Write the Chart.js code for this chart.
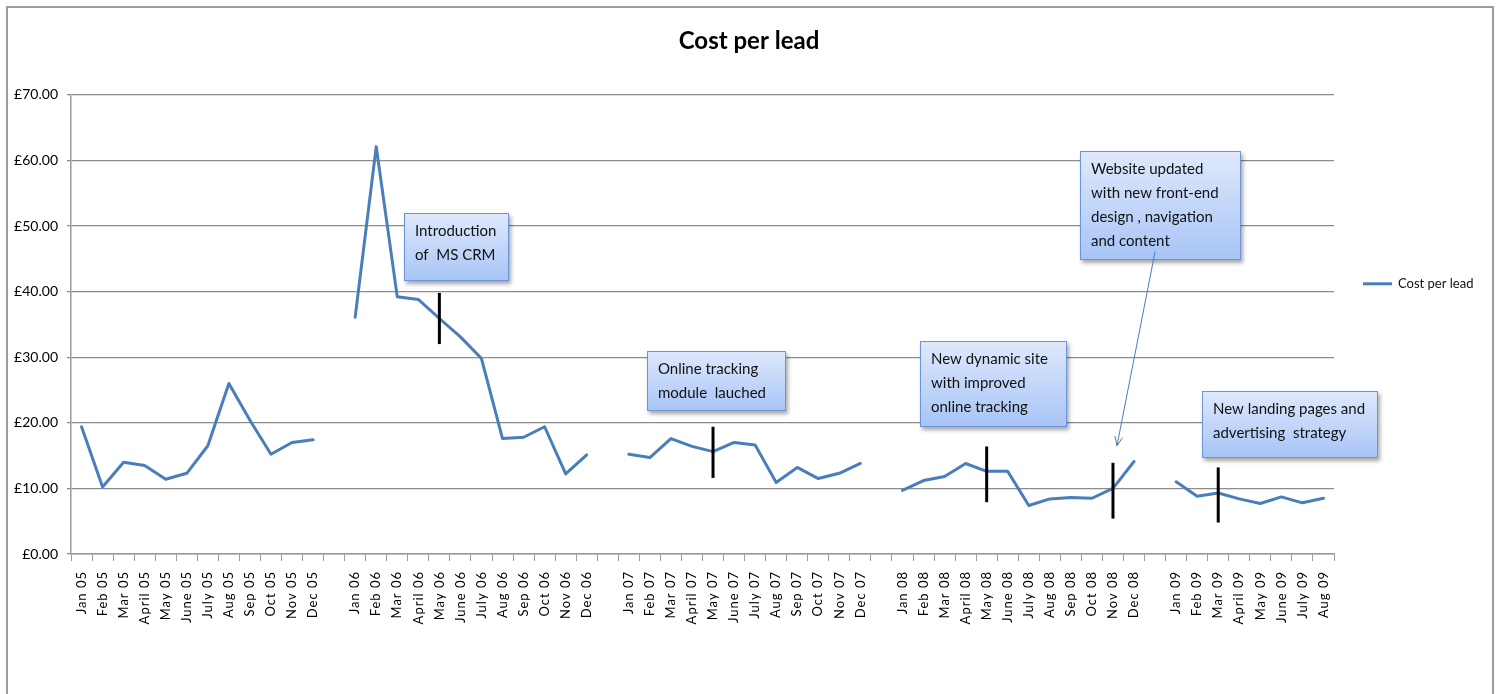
<!DOCTYPE html>
<html lang="en">
<head>
<meta charset="UTF-8">
<title>Cost per lead</title>
<script src="https://cdn.jsdelivr.net/npm/chart.js@4"></script>
<style>
    body {
        margin: 0;
        background: #fff;
    }

    #wrap {
        position: relative;
        width: 1498px;
        height: 694px;
        overflow: hidden;
    }

    /* grey frame of the chart object, runs off the bottom */
    #frame {
        position: absolute;
        left: 6px;
        top: 6px;
        width: 1484px;
        height: 720px;
        border: 2px solid #9c9c9c;
        border-bottom: none;
    }

    #chart {
        position: absolute;
        left: 0;
        top: 0;
    }
</style>
</head>
<body>
<div id="wrap">
    <div id="frame"></div>
    <canvas id="chart" width="1498" height="694"></canvas>
</div>

<script>
// months shown on the axis, one block per year with an empty slot between years
const months = ['Jan', 'Feb', 'Mar', 'April', 'May', 'June', 'July', 'Aug', 'Sep', 'Oct', 'Nov', 'Dec'];
const years = ['05', '06', '07', '08', '09'];

// cost per lead (GBP)
const cost05 = [19.4, 10.2, 14.0, 13.5, 11.4, 12.3, 16.5, 26.0, 20.4, 15.2, 17.0, 17.4];
const cost06 = [36.1, 62.1, 39.2, 38.8, 35.9, 33.1, 29.8, 17.6, 17.8, 19.4, 12.2, 15.1];
const cost07 = [15.2, 14.7, 17.6, 16.4, 15.6, 17.0, 16.6, 10.9, 13.2, 11.5, 12.3, 13.8];
const cost08 = [9.7, 11.2, 11.8, 13.8, 12.6, 12.6, 7.4, 8.4, 8.6, 8.5, 10.0, 14.1];
const cost09 = [11.0, 8.8, 9.3, 8.4, 7.7, 8.7, 7.8, 8.5];

// black event markers: month and the value range they span
const markerMonths = ['May 06', 'May 07', 'May 08', 'Nov 08', 'Mar 09'];
const markerLow = [32.0, 11.6, 7.9, 5.4, 4.8];
const markerHigh = [39.8, 19.4, 16.4, 13.9, 13.2];

// y ticks
const yMin = 0, yMax = 70, yStep = 10;

// build the category list and the series (null in the gaps)
const yearly = [cost05, cost06, cost07, cost08, cost09];
const labels = [];
const values = [];
years.forEach(function(yr, i) {
    if (i > 0) {
        labels.push('');
        values.push(null);
    }
    yearly[i].forEach(function(v, m) {
        labels.push(months[m] + ' ' + yr);
        values.push(v);
    });
});

const FONT = 'Lato';

// text boxes (anchored on the axes: fractional category index / value of top left corner)
const notes = [
    { at: 15.32, top: 52.0, w: 105, h: 68, lines: ['Introduction', 'of  MS CRM'] },
    { at: 26.86, top: 30.96, w: 139, h: 60, lines: ['Online tracking', 'module  lauched'] },
    { at: 39.83, top: 32.5, w: 147, h: 86, lines: ['New dynamic site', 'with improved', 'online tracking'] },
    { at: 47.43, top: 61.5, w: 161, h: 109, lines: ['Website updated', 'with new front-end', 'design , navigation', 'and content'] },
    { at: 53.23, top: 24.9, w: 176, h: 67, lines: ['New landing pages and', 'advertising  strategy'] }
];
const arrow = { from: [51.0, 46.1], to: [49.19, 16.5] };

function drawNote(ctx, x, y, w, h, lines) {
    ctx.save();
    ctx.shadowColor = 'rgba(0, 0, 0, 0.35)';
    ctx.shadowBlur = 4;
    ctx.shadowOffsetX = 2;
    ctx.shadowOffsetY = 3;
    const g = ctx.createLinearGradient(0, y, 0, y + h);
    g.addColorStop(0, '#dfe9fc');
    g.addColorStop(1, '#a7c4f6');
    ctx.fillStyle = g;
    ctx.fillRect(x, y, w, h);
    ctx.restore();

    ctx.save();
    ctx.strokeStyle = '#6b95d6';
    ctx.lineWidth = 1;
    ctx.strokeRect(x + 0.5, y + 0.5, w - 1, h - 1);
    ctx.fillStyle = '#111';
    ctx.font = '15px ' + FONT;
    ctx.textBaseline = 'middle';
    ctx.textAlign = 'left';
    lines.forEach(function(t, i) {
        ctx.fillText(t, x + 11, y + 18 + i * 24);
    });
    ctx.restore();
}

const extras = {
    id: 'extras',
    beforeDraw(chart) {
        // slightly spaced x labels, like the original
        const sx = chart.scales.x;
        if (!sx._spaced) {
            const orig = sx.drawLabels;
            sx.drawLabels = function(area) {
                this.ctx.save();
                this.ctx.letterSpacing = '1px';
                orig.call(this, area);
                this.ctx.restore();
            };
            sx._spaced = true;
        }
    },
    afterDatasetsDraw(chart) {
        const ctx = chart.ctx;
        const sx = chart.scales.x;
        const sy = chart.scales.y;
        const area = chart.chartArea;

        // event markers
        ctx.save();
        ctx.strokeStyle = '#000';
        ctx.lineWidth = 3;
        markerMonths.forEach(function(m, i) {
            const px = sx.getPixelForValue(labels.indexOf(m));
            ctx.beginPath();
            ctx.moveTo(px, sy.getPixelForValue(markerHigh[i]));
            ctx.lineTo(px, sy.getPixelForValue(markerLow[i]));
            ctx.stroke();
        });
        ctx.restore();

        // text boxes
        notes.forEach(function(n) {
            const x = Math.round(sx.getPixelForValue(n.at));
            const y = Math.round(sy.getPixelForValue(n.top));
            drawNote(ctx, x, y, n.w, n.h, n.lines);
        });

        // arrow from the website box
        const x0 = sx.getPixelForValue(arrow.from[0]), y0 = sy.getPixelForValue(arrow.from[1]);
        const x1 = sx.getPixelForValue(arrow.to[0]), y1 = sy.getPixelForValue(arrow.to[1]);
        const ang = Math.atan2(y1 - y0, x1 - x0);
        ctx.save();
        ctx.strokeStyle = '#4a7ebb';
        ctx.lineWidth = 1;
        ctx.beginPath();
        ctx.moveTo(x0, y0);
        ctx.lineTo(x1, y1);
        ctx.moveTo(x1 - 10 * Math.cos(ang - 0.4), y1 - 10 * Math.sin(ang - 0.4));
        ctx.lineTo(x1, y1);
        ctx.lineTo(x1 - 10 * Math.cos(ang + 0.4), y1 - 10 * Math.sin(ang + 0.4));
        ctx.stroke();
        ctx.restore();

        // legend on the right
        const ds = chart.data.datasets[0];
        const ly = area.top + 189;
        ctx.save();
        ctx.strokeStyle = ds.borderColor;
        ctx.lineWidth = 3;
        ctx.beginPath();
        ctx.moveTo(area.right + 29, ly);
        ctx.lineTo(area.right + 58, ly);
        ctx.stroke();
        ctx.fillStyle = '#111';
        ctx.font = '13px ' + FONT;
        ctx.textBaseline = 'middle';
        ctx.fillText(ds.label, area.right + 64, ly);
        ctx.restore();
    }
};

new Chart(document.getElementById('chart').getContext('2d'), {
    type: 'line',
    data: {
        labels: labels,
        datasets: [{
            label: 'Cost per lead',
            data: values,
            borderColor: '#4a7ebb',
            borderWidth: 3,
            borderJoinStyle: 'round',
            borderCapStyle: 'round',
            pointRadius: 0,
            tension: 0,
            spanGaps: false
        }]
    },
    options: {
        responsive: false,
        animation: false,
        layout: { padding: 0 },
        plugins: {
            legend: { display: false },
            tooltip: { enabled: false },
            title: {
                display: true,
                text: 'Cost per lead',
                color: '#000',
                font: { family: FONT, size: 24, weight: 'bold' },
                padding: { top: 27, bottom: 39 }
            }
        },
        scales: {
            x: {
                offset: true,
                grid: {
                    offset: true,
                    drawOnChartArea: false,
                    drawTicks: true,
                    tickLength: 7,
                    color: '#9a9a9a'
                },
                border: { color: '#9a9a9a', width: 1.5 },
                ticks: {
                    autoSkip: false,
                    minRotation: 90,
                    maxRotation: 90,
                    padding: 10,
                    color: '#000',
                    font: { family: FONT, size: 13 }
                },
                afterFit(s) { s.height = 140; }
            },
            y: {
                min: yMin,
                max: yMax,
                grid: { color: '#8c8c8c', lineWidth: 1.3, tickLength: 4 },
                border: { color: '#9a9a9a', width: 1.5 },
                ticks: {
                    stepSize: yStep,
                    padding: 9,
                    color: '#000',
                    font: { family: FONT, size: 14 },
                    callback: function(v) { return '£' + v.toFixed(2); }
                },
                afterFit(s) { s.width = 71; }
            },
            // empty axis that only reserves the room where the legend sits
            side: {
                position: 'right',
                grid: { display: false },
                border: { display: false },
                ticks: { display: false },
                afterFit(s) { s.width = 164; }
            }
        }
    },
    plugins: [extras]
});
</script>
</body>
</html>
